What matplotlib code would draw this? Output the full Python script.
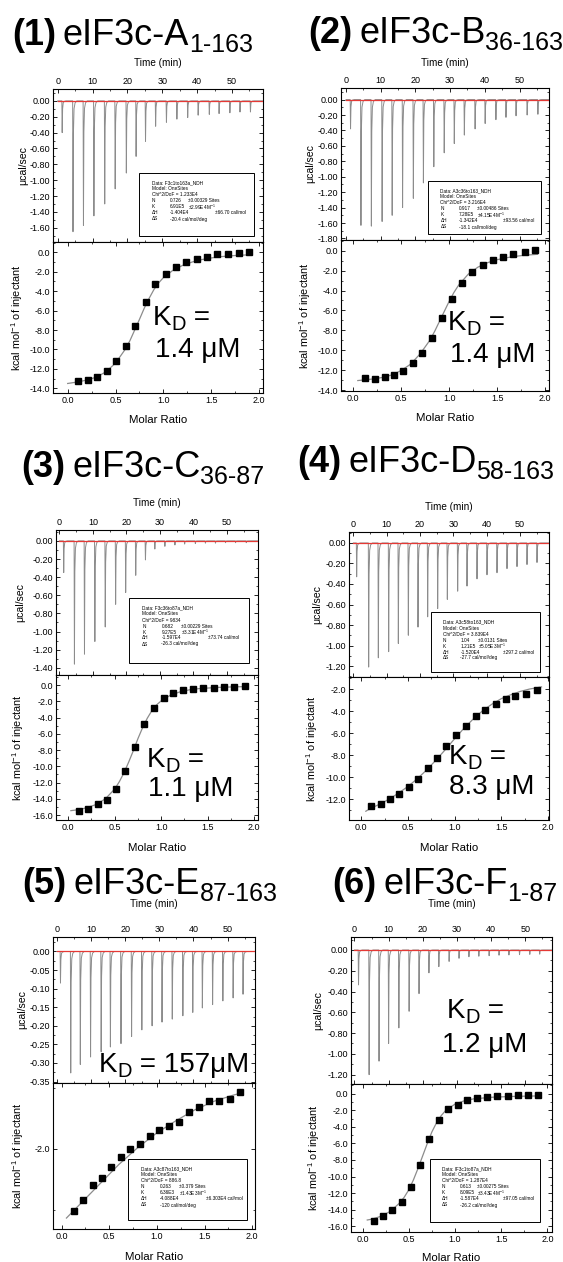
import matplotlib
matplotlib.use("Agg")
import matplotlib.pyplot as plt
from matplotlib.patches import Rectangle
from matplotlib.ticker import MultipleLocator, FormatStrFormatter

plt.rcParams['font.family'] = ['Liberation Sans', 'DejaVu Sans']
plt.rcParams['mathtext.fontset'] = 'custom'
plt.rcParams['mathtext.rm'] = 'Liberation Sans'
plt.rcParams['mathtext.it'] = 'Liberation Sans:italic'
plt.rcParams['mathtext.bf'] = 'Liberation Sans:bold'
plt.rcParams['axes.unicode_minus'] = False

# ---------------- data ----------------
# raw thermograms: injection time (min) and peak height (ucal/sec)
t1 = [1.2, 4.3, 7.3, 10.3, 13.4, 16.4, 19.6, 22.4, 25.1, 28.0, 31.1, 34.1, 37.2, 40.2, 43.4, 46.2, 49.3, 52.2, 55.2]
p1 = [-0.40, -1.65, -1.57, -1.45, -1.30, -1.11, -0.91, -0.70, -0.51, -0.32, -0.27, -0.23, -0.21, -0.18, -0.17, -0.16, -0.15, -0.14, -0.14]
t2 = [1.2, 4.2, 7.2, 10.3, 13.2, 16.2, 19.3, 22.2, 25.2, 28.2, 31.1, 34.0, 37.1, 40.0, 43.1, 46.0, 48.9, 52.1, 55.2]
p2 = [-0.38, -1.63, -1.64, -1.58, -1.50, -1.40, -1.28, -1.08, -0.87, -0.69, -0.57, -0.46, -0.38, -0.31, -0.26, -0.23, -0.21, -0.20, -0.19]
t3 = [1.2, 4.4, 7.4, 10.5, 13.6, 16.7, 19.7, 22.7, 25.6, 28.4, 31.4, 34.4, 37.3, 40.5, 43.5, 46.5, 49.5, 52.5, 55.7]
p3 = [-0.35, -1.36, -1.25, -1.11, -0.95, -0.70, -0.57, -0.38, -0.21, -0.09, -0.06, -0.045, -0.035, -0.03, -0.025, -0.025, -0.02, -0.02, -0.02]
t4 = [0.9, 4.5, 7.4, 10.5, 13.4, 16.4, 19.3, 22.2, 25.2, 28.1, 31.2, 34.0, 37.0, 40.0, 43.0, 46.0, 49.0, 52.0, 55.0]
p4 = [-0.33, -1.21, -1.12, -1.06, -0.98, -0.90, -0.82, -0.72, -0.64, -0.55, -0.47, -0.42, -0.35, -0.31, -0.29, -0.25, -0.23, -0.21, -0.19]
t5 = [1.0, 4.0, 6.8, 9.8, 12.9, 15.6, 18.7, 21.8, 24.8, 27.8, 30.7, 33.7, 36.8, 39.7, 42.5, 45.5, 48.5, 51.5, 54.4]
p5 = [-0.085, -0.327, -0.304, -0.284, -0.270, -0.257, -0.248, -0.229, -0.211, -0.200, -0.190, -0.182, -0.173, -0.164, -0.152, -0.143, -0.133, -0.125, -0.115]
t6 = [1.1, 4.2, 7.1, 9.9, 12.9, 15.9, 18.8, 21.7, 24.6, 27.6, 30.5, 33.4, 36.3, 39.3, 42.2, 45.1, 48.2, 51.2, 54.1]
p6 = [-0.336, -1.20, -1.07, -0.90, -0.75, -0.59, -0.42, -0.22, -0.16, -0.11, -0.08, -0.065, -0.06, -0.055, -0.05, -0.048, -0.045, -0.042, -0.04]

# integrated heats: molar ratio and kcal/mol of injectant
r1 = [0.105, 0.209, 0.31, 0.408, 0.505, 0.606, 0.707, 0.815, 0.916, 1.024, 1.129, 1.233, 1.348, 1.456, 1.564, 1.672, 1.787, 1.899]
h1 = [-13.24, -13.14, -12.8, -12.18, -11.18, -9.6, -7.62, -5.15, -3.29, -2.2, -1.54, -1.0, -0.69, -0.51, -0.21, -0.14, -0.07, 0.0]
r2 = [0.121, 0.225, 0.329, 0.426, 0.523, 0.624, 0.721, 0.825, 0.925, 1.033, 1.133, 1.241, 1.348, 1.452, 1.556, 1.664, 1.785, 1.893]
h2 = [-12.82, -12.92, -12.65, -12.45, -12.04, -11.3, -10.29, -8.74, -6.75, -4.86, -3.24, -2.13, -1.42, -0.91, -0.64, -0.3, -0.17, 0.07]
r3 = [0.115, 0.215, 0.316, 0.417, 0.517, 0.614, 0.715, 0.819, 0.919, 1.027, 1.127, 1.235, 1.343, 1.451, 1.562, 1.673, 1.785, 1.9]
h3 = [-15.5, -15.2, -14.65, -14.08, -12.8, -10.57, -7.67, -4.78, -2.82, -1.59, -0.94, -0.65, -0.45, -0.37, -0.33, -0.24, -0.2, -0.16]
r4 = [0.11, 0.21, 0.31, 0.41, 0.51, 0.61, 0.71, 0.81, 0.91, 1.02, 1.12, 1.23, 1.33, 1.44, 1.55, 1.65, 1.76, 1.88]
h4 = [-12.6, -12.4, -12.03, -11.5, -10.9, -10.2, -9.2, -8.3, -7.2, -6.2, -5.3, -4.4, -3.9, -3.3, -2.9, -2.6, -2.4, -2.05]
r5 = [0.13, 0.229, 0.33, 0.425, 0.523, 0.618, 0.72, 0.818, 0.923, 1.025, 1.13, 1.232, 1.334, 1.439, 1.551, 1.657, 1.765, 1.87]
h5 = [-2.508, -2.418, -2.30, -2.243, -2.15, -2.071, -2.005, -1.962, -1.893, -1.85, -1.817, -1.78, -1.697, -1.658, -1.612, -1.604, -1.59, -1.535]
r6 = [0.119, 0.22, 0.321, 0.422, 0.519, 0.62, 0.721, 0.825, 0.926, 1.034, 1.135, 1.243, 1.351, 1.459, 1.571, 1.679, 1.787, 1.903]
h6 = [-15.35, -14.79, -14.06, -13.05, -11.23, -8.6, -5.5, -3.15, -1.86, -1.33, -0.77, -0.53, -0.4, -0.32, -0.24, -0.2, -0.2, -0.2]

# fitted one-site curves (traced)
fx1 = [0.0, 0.1, 0.2, 0.3, 0.4, 0.5, 0.6, 0.65, 0.7, 0.75, 0.8, 0.85, 0.9, 0.95, 1.0, 1.1, 1.2, 1.3, 1.4, 1.5, 1.6, 1.7, 1.8, 1.92]
fy1 = [-13.5, -13.35, -13.15, -12.85, -12.3, -11.4, -10.0, -9.1, -8.0, -6.9, -5.75, -4.75, -3.85, -3.15, -2.6, -1.85, -1.35, -1.0, -0.75, -0.58, -0.45, -0.36, -0.3, -0.25]
fx2 = [0.05, 0.2, 0.3, 0.4, 0.5, 0.6, 0.7, 0.8, 0.85, 0.9, 0.95, 1.0, 1.05, 1.1, 1.2, 1.3, 1.4, 1.5, 1.6, 1.7, 1.8, 1.92]
fy2 = [-13.05, -12.9, -12.75, -12.5, -12.05, -11.4, -10.35, -9.0, -8.1, -7.1, -6.1, -5.1, -4.2, -3.45, -2.35, -1.65, -1.2, -0.9, -0.7, -0.55, -0.44, -0.36]
fx3 = [0.03, 0.1, 0.2, 0.3, 0.4, 0.5, 0.55, 0.6, 0.65, 0.7, 0.75, 0.8, 0.85, 0.9, 0.95, 1.0, 1.1, 1.2, 1.3, 1.4, 1.6, 1.8, 1.92]
fy3 = [-15.45, -15.35, -15.1, -14.7, -14.0, -12.8, -11.9, -10.8, -9.5, -8.1, -6.6, -5.25, -4.1, -3.15, -2.45, -1.95, -1.25, -0.85, -0.6, -0.45, -0.3, -0.22, -0.2]
fx4 = [0.05, 0.1, 0.2, 0.3, 0.4, 0.5, 0.6, 0.7, 0.8, 0.9, 1.0, 1.1, 1.2, 1.3, 1.4, 1.5, 1.6, 1.7, 1.8, 1.93]
fy4 = [-13.1, -12.85, -12.45, -12.0, -11.45, -10.85, -10.15, -9.35, -8.45, -7.5, -6.5, -5.55, -4.7, -3.95, -3.35, -2.85, -2.5, -2.2, -1.98, -1.78]
fx5 = [0.05, 0.2, 0.4, 0.6, 0.8, 1.0, 1.2, 1.4, 1.6, 1.8, 1.9]
fy5 = [-2.57, -2.45, -2.29, -2.13, -1.99, -1.87, -1.77, -1.68, -1.61, -1.56, -1.54]
fx6 = [0.05, 0.1, 0.2, 0.3, 0.4, 0.45, 0.5, 0.55, 0.6, 0.65, 0.7, 0.75, 0.8, 0.85, 0.9, 1.0, 1.1, 1.2, 1.4, 1.6, 1.8, 1.93]
fy6 = [-15.25, -15.15, -14.8, -14.2, -13.2, -12.5, -11.6, -10.4, -9.0, -7.5, -6.0, -4.6, -3.5, -2.65, -2.0, -1.25, -0.85, -0.62, -0.42, -0.33, -0.28, -0.26]

titles = [("(1)", "eIF3c-A", "1-163"), ("(2)", "eIF3c-B", "36-163"),
          ("(3)", "eIF3c-C", "36-87"), ("(4)", "eIF3c-D", "58-163"),
          ("(5)", "eIF3c-E", "87-163"), ("(6)", "eIF3c-F", "1-87")]
kd_values = ["1.4 \u03bcM", "1.4 \u03bcM", "1.1 \u03bcM", "8.3 \u03bcM", "157\u03bcM", "1.2 \u03bcM"]

fit_boxes = [
    ["Data: F3c1to163a_NDH", "Model: OneSites", "Chi^2/DoF = 1.233E4",
     ("N", "0.726", "\u00b10.00329 Sites"), ("K", "6.91E5", "\u00b12.99E4 M$^{-1}$"),
     ("\u0394H", "-1.404E4", "", "\u00b166.70 cal/mol"), ("\u0394S", "-20.4 cal/mol/deg")],
    ["Data: A3c36to163_NDH", "Model: OneSites", "Chi^2/DoF = 3.216E4",
     ("N", "0.917", "\u00b10.00486 Sites"), ("K", "7.28E5", "\u00b14.15E4 M$^{-1}$"),
     ("\u0394H", "-1.342E4", "", "\u00b193.56 cal/mol"), ("\u0394S", "-18.1 cal/mol/deg")],
    ["Data: F3c36to87a_NDH", "Model: OneSites", "Chi^2/DoF = 9834",
     ("N", "0.682", "\u00b10.00229 Sites"), ("K", "9.27E5", "\u00b13.31E4 M$^{-1}$"),
     ("\u0394H", "-1.597E4", "", "\u00b173.74 cal/mol"), ("\u0394S", "-26.3 cal/mol/deg")],
    ["Data: A3c58to163_NDH", "Model: OneSites", "Chi^2/DoF = 3.839E4",
     ("N", "1.04", "\u00b10.0131 Sites"), ("K", "1.21E5", "\u00b15.05E3 M$^{-1}$"),
     ("\u0394H", "-1.520E4", "", "\u00b1297.2 cal/mol"), ("\u0394S", "-27.7 cal/mol/deg")],
    ["Data: A3c87to163_NDH", "Model: OneSites", "Chi^2/DoF = 886.8",
     ("N", "0.263", "\u00b10.379 Sites"), ("K", "6.36E3", "\u00b11.43E3 M$^{-1}$"),
     ("\u0394H", "-4.088E4", "", "\u00b16.303E4 cal/mol"), ("\u0394S", "-120 cal/mol/deg")],
    ["Data: lF3c1to87a_NDH", "Model: OneSites", "Chi^2/DoF = 1.287E4",
     ("N", "0.613", "\u00b10.00275 Sites"), ("K", "8.09E5", "\u00b13.43E4 M$^{-1}$"),
     ("\u0394H", "-1.587E4", "", "\u00b197.05 cal/mol"), ("\u0394S", "-26.2 cal/mol/deg")],
]

raw_t = [t1, t2, t3, t4, t5, t6]
raw_p = [p1, p2, p3, p4, p5, p6]
ratio = [r1, r2, r3, r4, r5, r6]
heat = [h1, h2, h3, h4, h5, h6]
fit_x = [fx1, fx2, fx3, fx4, fx5, fx6]
fit_y = [fy1, fy2, fy3, fy4, fy5, fy6]

# ---------------- layout (pixels) ----------------
W, H = 563, 1262
fig = plt.figure(figsize=(W / 100, H / 100), dpi=100)

layout = [
    dict(L=53.3, R=263, T=89, M=242, B=393, tx=(-1.25, 58.9), ty=(-1.78, 0.15), ty_step=0.2,
         mx=(-0.15, 2.04), my=(-14.48, 1.06), my_step=2.0, title=(12, 45),
         kd=(153, 325, 155, 357), box=(139, 254, 173, 236), ylab_top=23, ylab_bot=17,
         time_y=63, molar_y=420),
    dict(L=341, R=549, T=88, M=240, B=391, tx=(-1.45, 58.5), ty=(-1.82, 0.15), ty_step=0.2,
         mx=(-0.125, 2.04), my=(-14.1, 1.08), my_step=2.0, title=(308, 43),
         kd=(448, 330, 450, 362), box=(428, 541, 181, 234), ylab_top=310, ylab_bot=305,
         time_y=63, molar_y=418),
    dict(L=56, R=258, T=530, M=675, B=820, tx=(-1.0, 59.3), ty=(-1.48, 0.12), ty_step=0.2,
         mx=(-0.13, 2.04), my=(-16.6, 1.23), my_step=2.0, title=(21, 477),
         kd=(147, 767, 148, 796), box=(129, 249, 598, 663), ylab_top=20, ylab_bot=18,
         time_y=503, molar_y=848),
    dict(L=349, R=549, T=532, M=677, B=820, tx=(-1.3, 58.7), ty=(-1.307, 0.107), ty_step=0.2,
         mx=(-0.13, 2.01), my=(-13.9, -0.88), my_step=2.0, title=(297, 472),
         kd=(449, 764, 449, 794), box=(431, 540, 612, 672), ylab_top=317, ylab_bot=312,
         time_y=507, molar_y=848),
    dict(L=53.3, R=255, T=937, M=1083, B=1229, tx=(-1.0, 58.0), ty=(-0.354, 0.039), ty_step=0.05,
         mx=(-0.088, 2.03), my=(-2.66, -1.46), my_step=1.0, title=(22, 894),
         kd=(99, 1072, None, None), box=(127.7, 246.7, 1159, 1220), ylab_top=22, ylab_bot=18,
         time_y=904, molar_y=1257),
    dict(L=351, R=552, T=937, M=1084, B=1232, tx=(-1.0, 57.8), ty=(-1.29, 0.125), ty_step=0.2,
         mx=(-0.126, 2.05), my=(-16.7, 1.18), my_step=2.0, title=(332, 894),
         kd=(447, 1018, 442, 1052), box=(430, 540, 1159, 1222), ylab_top=318, ylab_bot=314,
         time_y=904, molar_y=1258),
]

# shape of one injection peak (time offset in min, fraction of peak height)
PEAK_DT = [0.0, 0.1, 0.22, 0.4, 0.7, 1.2]
PEAK_FR = [0.0, 1.0, 0.25, 0.06, 0.015, 0.0]


def fx(x):
    return x / W


def fy(y):
    return 1 - y / H


def style(ax, xstep, ystep, xfmt, yfmt):
    ax.xaxis.set_major_locator(MultipleLocator(xstep))
    ax.xaxis.set_minor_locator(MultipleLocator(xstep / 2))
    ax.yaxis.set_major_locator(MultipleLocator(ystep))
    ax.yaxis.set_minor_locator(MultipleLocator(ystep / 2))
    ax.xaxis.set_major_formatter(FormatStrFormatter(xfmt))
    ax.yaxis.set_major_formatter(FormatStrFormatter(yfmt))
    ax.tick_params(which='both', direction='in', top=True, right=True,
                   bottom=True, left=True, labelsize=6.5, pad=2)
    ax.tick_params(which='major', length=2.6, width=0.6)
    ax.tick_params(which='minor', length=1.4, width=0.5)
    for s in ax.spines.values():
        s.set_linewidth(0.8)


def seq_text(x, y, parts):
    r = fig.canvas.get_renderer()
    for s, kw, dy, gap in parts:
        t = fig.text(fx(x), fy(y + dy), s, ha='left', va='baseline', **kw)
        x += t.get_window_extent(renderer=r).width + gap


for i, lay in enumerate(layout):
    L, R, T, M, B = lay['L'], lay['R'], lay['T'], lay['M'], lay['B']

    # raw thermogram
    ax1 = fig.add_axes([fx(L), fy(M), (R - L) / W, (M - T) / H])
    xs, ys = [0.0], [0.0]
    for t, p in zip(raw_t[i], raw_p[i]):
        xs += [t + d for d in PEAK_DT]
        ys += [p * f for f in PEAK_FR]
    xs.append(lay['tx'][1])
    ys.append(0.0)
    ax1.plot(xs, ys, color='#8c8c8c', lw=0.7, zorder=2)
    ax1.plot([0, lay['tx'][1]], [0, 0], color='#e53935', lw=0.9, zorder=3)
    ax1.set_xlim(*lay['tx'])
    ax1.set_ylim(*lay['ty'])
    style(ax1, 10, lay['ty_step'], '%d', '%.2f')
    ax1.xaxis.tick_top()
    ax1.tick_params(which='both', bottom=True, labelbottom=False)

    # isotherm
    ax2 = fig.add_axes([fx(L), fy(B), (R - L) / W, (B - M) / H])
    ax2.plot(fit_x[i], fit_y[i], color='#8c8c8c', lw=0.9, zorder=2)
    ax2.plot(ratio[i], heat[i], 's', color='black', ms=4.0, zorder=3)
    ax2.set_xlim(*lay['mx'])
    ax2.set_ylim(*lay['my'])
    style(ax2, 0.5, lay['my_step'], '%.1f', '%.1f')

    # axis titles
    cx = (L + R) / 2
    fig.text(fx(cx), fy(lay['time_y']), "Time (min)", ha='center', va='center', fontsize=7.2)
    fig.text(fx(cx), fy(lay['molar_y']), "Molar Ratio", ha='center', va='center', fontsize=8.2)
    fig.text(fx(lay['ylab_top']), fy((T + M) / 2), "\u03bccal/sec", rotation=90,
             ha='center', va='center', fontsize=7.6)
    fig.text(fx(lay['ylab_bot']), fy((M + B) / 2), "kcal mol$^{-1}$ of injectant", rotation=90,
             ha='center', va='center', fontsize=7.8)

    # panel title
    num, name, sub = titles[i]
    tx0, ty0 = lay['title']
    seq_text(tx0, ty0, [(num, dict(fontsize=26, fontweight='bold'), 0, 7),
                        (name, dict(fontsize=26), 0, 0),
                        (sub, dict(fontsize=18), 7, 0)])

    # K_D annotation
    kx, ky, vx, vy = lay['kd']
    if vx is None:
        seq_text(kx, ky, [("K", dict(fontsize=20), 0, 0), ("D", dict(fontsize=14.5), 5, 0),
                          (" = " + kd_values[i], dict(fontsize=20), 0, 0)])
    else:
        seq_text(kx, ky, [("K", dict(fontsize=20), 0, 0), ("D", dict(fontsize=14.5), 5, 0),
                          (" =", dict(fontsize=20), 0, 0)])
        fig.text(fx(vx), fy(vy), kd_values[i], ha='left', va='baseline', fontsize=20)

    # fit parameter box
    bl, br, bt, bb = lay['box']
    fig.add_artist(Rectangle((fx(bl), fy(bb)), (br - bl) / W, (bb - bt) / H,
                             transform=fig.transFigure, facecolor='white',
                             edgecolor='black', lw=0.7, zorder=5))
    cols = [0.11, 0.27, 0.43, 0.66]
    bw = br - bl
    for j, line in enumerate(fit_boxes[i]):
        yy = bt + 10 + j * 6.0
        if isinstance(line, str):
            line = (line,)
        for c, s in enumerate(line):
            if s:
                fig.text(fx(bl + cols[c] * bw), fy(yy), s, ha='left', va='center',
                         fontsize=3.4, zorder=6)

fig.savefig("out.png", dpi=100)
